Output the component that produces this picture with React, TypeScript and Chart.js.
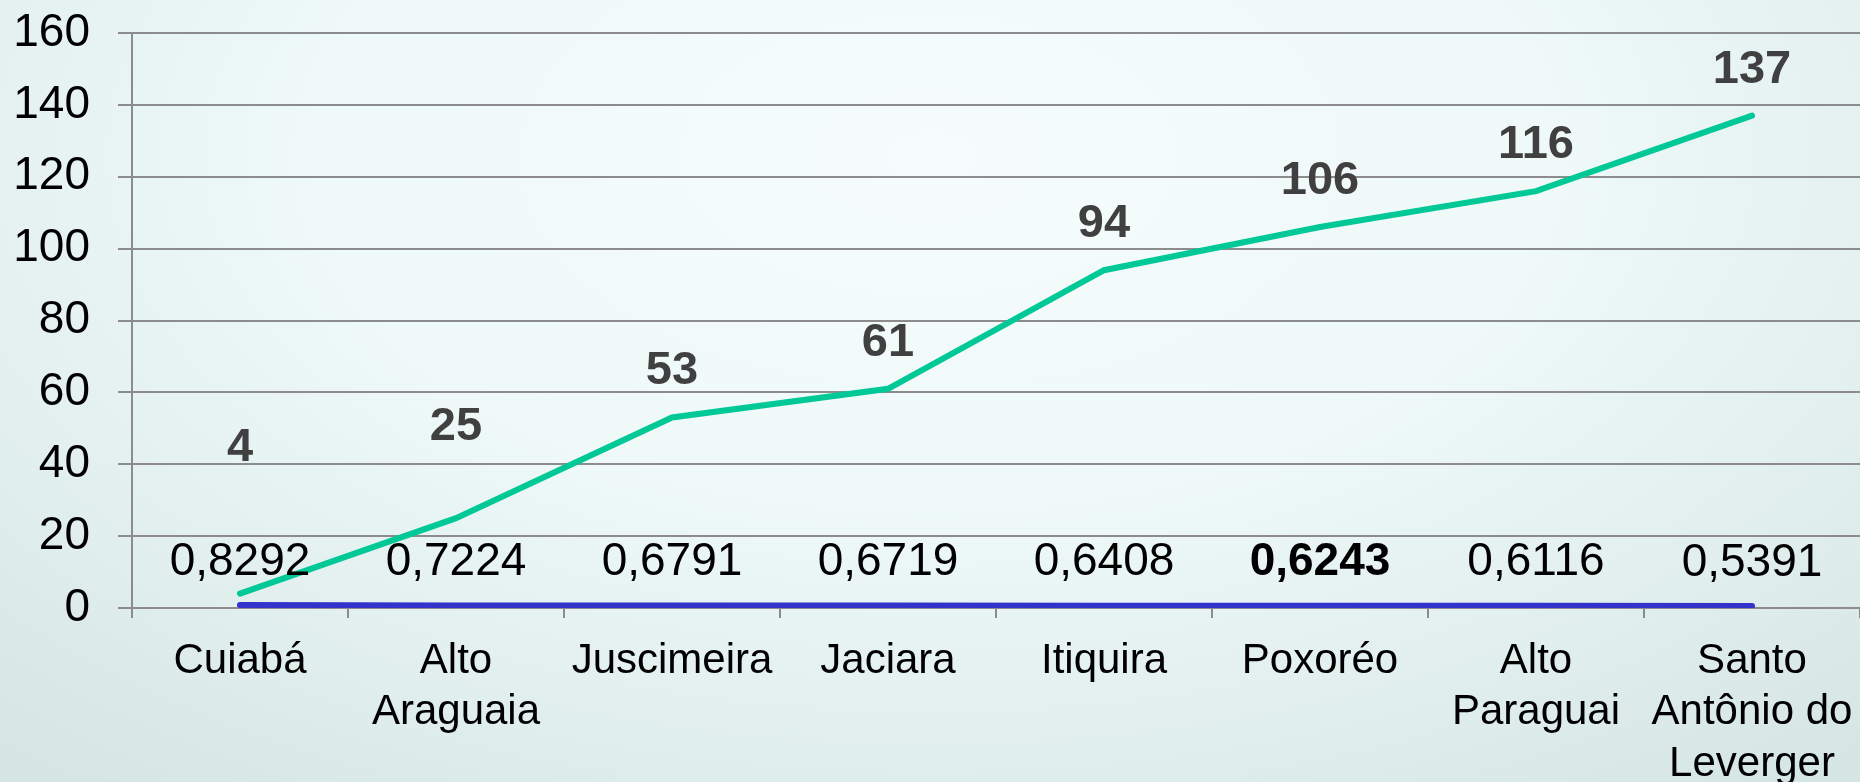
import React, { useEffect, useRef } from "react";
import { Chart, registerables } from "chart.js";

Chart.register(...registerables);

const categories: (string | string[])[] = [
  "Cuiabá",
  ["Alto", "Araguaia"],
  "Juscimeira",
  "Jaciara",
  "Itiquira",
  "Poxoréo",
  ["Alto", "Paraguai"],
  ["Santo", "Antônio do", "Leverger"],
];
const countValues = [4, 25, 53, 61, 94, 106, 116, 137];
const indexValues = [0.8292, 0.7224, 0.6791, 0.6719, 0.6408, 0.6243, 0.6116, 0.5391];
const indexLabels = ["0,8292", "0,7224", "0,6791", "0,6719", "0,6408", "0,6243", "0,6116", "0,5391"];
const boldIndexLabel = 5;
const yTicks = [0, 20, 40, 60, 80, 100, 120, 140, 160];
// extra upward shift (px) for the count labels that were moved in the source
const countLabelLift = [100, 45, 0, 0, 0, 0, 0, 0];

const FONT = "Arial, 'Liberation Sans', sans-serif";

const labelPlugin = {
  id: "valueLabels",
  afterDatasetsDraw(chart: any) {
    const ctx = chart.ctx;
    const metaCount = chart.getDatasetMeta(0);
    const metaIdx = chart.getDatasetMeta(1);
    ctx.save();
    ctx.textAlign = "center";
    ctx.textBaseline = "middle";
    metaCount.data.forEach((pt: any, i: number) => {
      ctx.font = `bold 47px ${FONT}`;
      ctx.fillStyle = "#404040";
      ctx.fillText(String(countValues[i]), pt.x, pt.y - 46 - countLabelLift[i]);
    });
    metaIdx.data.forEach((pt: any, i: number) => {
      ctx.font = `${i === boldIndexLabel ? "bold " : ""}46px ${FONT}`;
      ctx.fillStyle = "#000000";
      ctx.fillText(indexLabels[i], pt.x, pt.y - 43);
    });
    ctx.restore();
  },
};

export default function App() {
  const ref = useRef<HTMLCanvasElement | null>(null);

  useEffect(() => {
    document.body.style.margin = "0";
    if (!ref.current) return;
    const chart = new Chart(ref.current, {
      type: "line",
      data: {
        labels: categories,
        datasets: [
          {
            data: countValues,
            borderColor: "#00c896",
            borderWidth: 6,
            pointRadius: 0,
            tension: 0,
            fill: false,
            borderCapStyle: "round",
          },
          {
            data: indexValues,
            borderColor: "#3333cc",
            borderWidth: 6,
            pointRadius: 0,
            tension: 0,
            fill: false,
            borderCapStyle: "round",
          },
        ],
      },
      options: {
        animation: false,
        responsive: false,
        maintainAspectRatio: false,
        layout: { padding: { top: 33, right: 0, left: 0, bottom: 0 } },
        plugins: { legend: { display: false }, tooltip: { enabled: false } },
        scales: {
          x: {
            offset: true,
            grid: {
              offset: true,
              drawOnChartArea: false,
              drawTicks: true,
              tickLength: 10,
              color: "#8c8c8c",
              lineWidth: 2,
            },
            border: { display: false },
            ticks: {
              color: "#000000",
              font: { family: FONT, size: 42, lineHeight: 1.22 },
              padding: 18,
              maxRotation: 0,
              autoSkip: false,
            },
            afterFit: (s: any) => {
              s.height = 174;
              s.paddingLeft = 0;
              s.paddingRight = 0;
            },
          },
          y: {
            min: 0,
            max: 160,
            afterBuildTicks: (s: any) => {
              s.ticks = yTicks.map((v) => ({ value: v }));
            },
            grid: {
              color: "#8c8c8c",
              lineWidth: 2,
              tickLength: 14,
            },
            border: { display: true, color: "#8c8c8c", width: 2 },
            ticks: {
              color: "#000000",
              font: { family: FONT, size: 46 },
              padding: 28,
            },
            afterFit: (s: any) => {
              s.width = 132;
              s.paddingTop = 0;
              s.paddingBottom = 0;
            },
          },
        },
      },
      plugins: [labelPlugin],
    });
    return () => chart.destroy();
  }, []);

  return (
    <div
      style={{
        position: "fixed",
        left: 0,
        top: 0,
        width: 1860,
        height: 782,
        background:
          "radial-gradient(ellipse 75% 100% at 50% 20%, #f6fcfc 0%, #eef9f8 45%, #d6e6e4 100%)",
      }}
    >
      <canvas ref={ref} width={1860} height={782} style={{ display: "block" }} />
    </div>
  );
}
